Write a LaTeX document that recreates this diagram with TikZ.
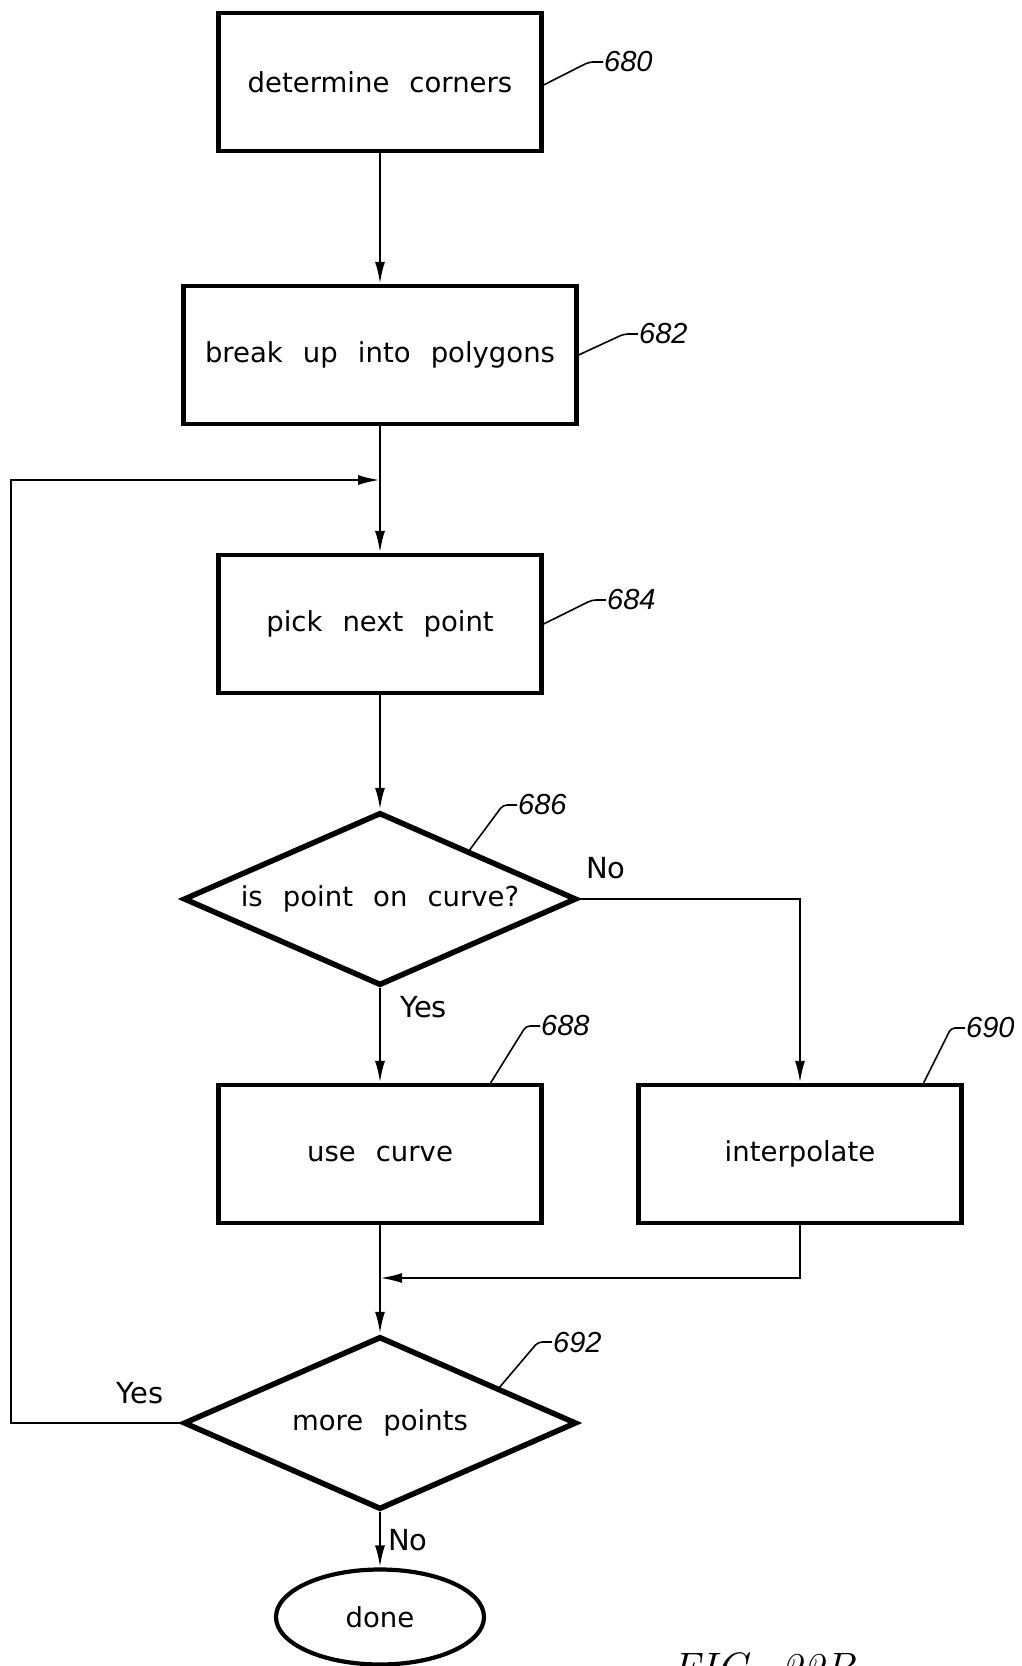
\documentclass[tikz,border=0pt]{standalone}
\usepackage{fontspec}
\usetikzlibrary{positioning,shapes.geometric,arrows.meta,calc}
\newfontfamily\boxfont{DejaVu Sans}[WordSpace=2.3]
\newfontfamily\numfont{Liberation Sans}
\begin{document}
\begin{tikzpicture}[->,>={Latex[length=22pt,width=10pt]},x=1pt,y=-1pt,
            node distance=271pt,line width=2.4pt,
            box node/.style={rectangle,draw,line width=4.2pt,minimum width=323pt,minimum height=138pt,
                font=\boxfont\fontsize{27.5pt}{33pt}\selectfont},
            test node/.style={diamond,draw,line width=5.5pt,aspect=2.27,inner sep=0pt,
                minimum width=393pt,minimum height=173pt,font=\boxfont\fontsize{27.5pt}{33pt}\selectfont},
            end node/.style={ellipse,draw,line width=4.2pt,minimum width=208pt,minimum height=95pt,
                font=\boxfont\fontsize{27.5pt}{33pt}\selectfont},
            ref node/.style={inner sep=0pt,anchor=west,font=\numfont\itshape\fontsize{29pt}{34pt}\selectfont},
            ref line/.style={-,line width=1.6pt,rounded corners=4pt},
            answer/.style={inner sep=0pt,font=\boxfont\fontsize{29pt}{34pt}\selectfont}]

        \useasboundingbox (0,0) rectangle (1021,1666);

        % Define vertices
        \node[box node] (c680) at (380,82) {determine corners};
        \node[box node,minimum width=393pt] (b682) [node distance=273pt,below of=c680] {break up into polygons};
        \node[box node] (p684) [node distance=269pt,below of=b682] {pick next point};
        \node[test node] (d686) [node distance=275pt,below of=p684] {is point on curve?};
        \node[box node] (u688) [node distance=255pt,below of=d686] {use curve};
        \node[box node] (i690) [node distance=420pt,right of=u688] {interpolate};
        \node[test node] (d692) [node distance=269pt,below of=u688] {more points};
        \node[end node] (done) [node distance=194pt,below of=d692] {done};

        % Reference numbers
        \node[ref node] (l680) at (603,62) {680};
        \node[ref node] (l682) at (638,334) {682};
        \node[ref node] (l684) at (606,600) {684};
        \node[ref node] (l686) at (517,805) {686};
        \node[ref node] (l688) at (540,1026) {688};
        \node[ref node] (l690) at (965,1028) {690};
        \node[ref node] (l692) at (552,1342) {692};

        \node[font=\itshape\fontsize{44pt}{50pt}\selectfont,anchor=base west,inner sep=0pt] (fig) at (670,1683) {FIG.\hspace{18pt}22B};

        \coordinate (merge) at (b682.south |- 0,480);
        \coordinate (loop) at (11,480);
        \coordinate (join) at (u688.south |- 0,1278);

        % Draw edges
        \path
            (c680) edge (b682)
            (b682) edge (p684)
            (p684) edge (d686)
            (d686) edge node[answer,pos=0.2,right=19pt] {Yes} (u688)
            (u688) edge (d692)
            (d692) edge node[answer,right=7pt] {No} (done);

        \draw (d686.east) -| node[answer,pos=0.06,above=19pt] {No} (i690.north);
        \draw (i690.south) |- (join);
        \draw (d692.west) -| node[answer,pos=0.12,above=18pt] {Yes} (loop) -- (merge);

        % Leaders
        \draw[ref line] ([yshift=-3pt]c680.east) -- ([xshift=-14pt]l680.west) -- (l680.west);
        \draw[ref line] (b682.east) -- ([xshift=-14pt]l682.west) -- (l682.west);
        \draw[ref line] (p684.east) -- ([xshift=-14pt]l684.west) -- (l684.west);
        \draw[ref line] ($(d686.north)!0.45!(d686.east)$) -- ([xshift=-14pt]l686.west) -- (l686.west);
        \draw[ref line] ([xshift=-53pt]u688.north east) -- ([xshift=-14pt]l688.west) -- (l688.west);
        \draw[ref line] ([xshift=-40pt]i690.north east) -- ([xshift=-14pt]l690.west) -- (l690.west);
        \draw[ref line] ($(d692.north)!0.6!(d692.east)$) -- ([xshift=-14pt]l692.west) -- (l692.west);

\end{tikzpicture}
\end{document}
